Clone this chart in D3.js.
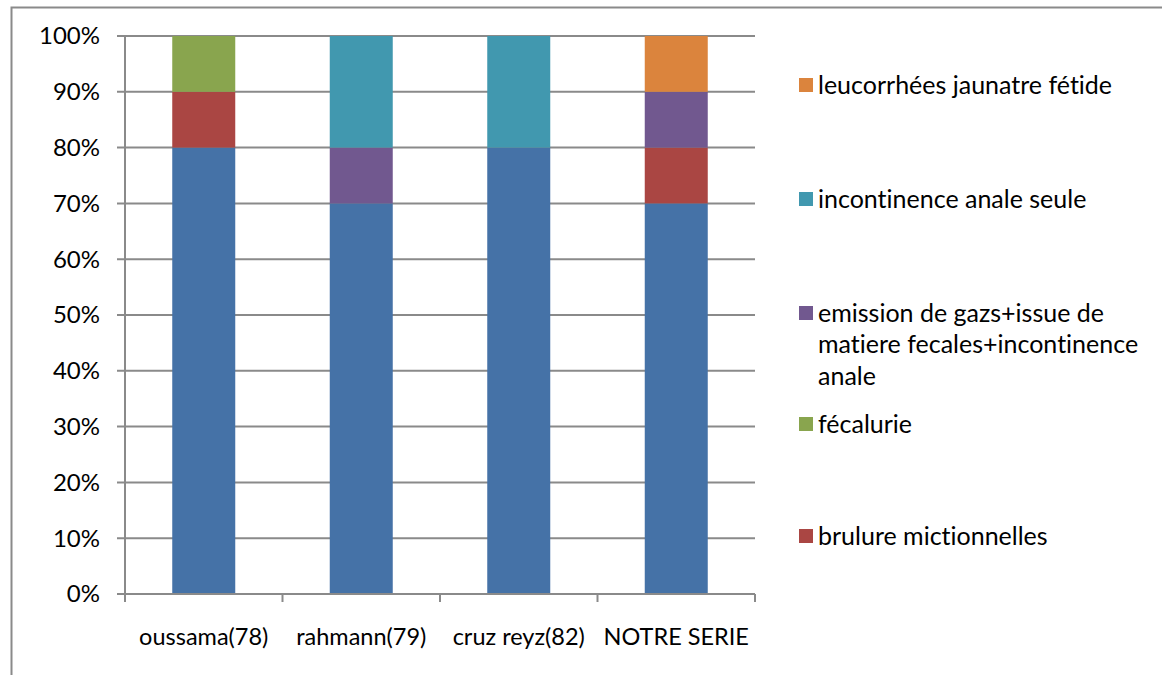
<!DOCTYPE html>
<html>
<head>
<meta charset="utf-8">
<script src="https://cdn.jsdelivr.net/npm/d3@7"></script>
<style>
  html, body { margin: 0; padding: 0; background: #fff; }
  svg { display: block; font-family: Lato, "Open Sans", sans-serif; font-variant-ligatures: none; }
</style>
</head>
<body>
<svg id="chart" width="1162" height="675"></svg>
<script>
// Studies compared
const categories = ["oussama(78)", "rahmann(79)", "cruz reyz(82)", "NOTRE SERIE"];

// Share (%) of each symptom, stacked bottom to top
const base        = [80, 70, 80, 70];
const brulure     = [10, 0, 0, 10];
const fecalurie   = [10, 0, 0, 0];
const emission    = [0, 10, 0, 10];
const incontinence= [0, 20, 20, 0];
const leucorrhees = [0, 0, 0, 10];

const yTicks = [0, 10, 20, 30, 40, 50, 60, 70, 80, 90, 100];

const seriesDefs = [
  { key: "base", values: base, color: "#4572A7", label: null },
  { key: "brulure", values: brulure, color: "#AA4643", label: ["brulure mictionnelles"] },
  { key: "fecalurie", values: fecalurie, color: "#89A54E", label: ["fécalurie"] },
  { key: "emission", values: emission, color: "#71588F",
    label: ["emission de gazs+issue de", "matiere fecales+incontinence", "anale"] },
  { key: "incontinence", values: incontinence, color: "#4198AF", label: ["incontinence anale seule"] },
  { key: "leucorrhees", values: leucorrhees, color: "#DB843D", label: ["leucorrhées jaunatre fétide"] }
];

const rows = categories.map((c, i) => {
  const r = { cat: c };
  seriesDefs.forEach(s => r[s.key] = s.values[i]);
  return r;
});

const svg = d3.select("#chart");

// outer frame (top and left edges)
svg.append("path")
  .attr("d", "M11.5,675 L11.5,7.5 L1162,7.5")
  .attr("fill", "none").attr("stroke", "#8a8a8a").attr("stroke-width", 2);

const plot = { left: 125, right: 755, top: 36, bottom: 594 };

const x = d3.scaleBand().domain(categories)
  .range([plot.left, plot.right]).paddingInner(0.6).paddingOuter(0.3);
const y = d3.scaleLinear().domain([0, 100]).range([plot.bottom, plot.top]);

// gridlines
svg.append("g").selectAll("line").data(yTicks).join("line")
  .attr("x1", plot.left - 8).attr("x2", plot.right)
  .attr("y1", d => y(d)).attr("y2", d => y(d))
  .attr("stroke", "#8a8a8a").attr("stroke-width", 2);

// stacked bars
const stack = d3.stack().keys(seriesDefs.map(s => s.key));
const layers = stack(rows);
svg.append("g").selectAll("g").data(layers).join("g")
  .attr("fill", (d, i) => seriesDefs[i].color)
  .selectAll("rect").data(d => d).join("rect")
  .attr("x", d => x(d.data.cat))
  .attr("width", x.bandwidth())
  .attr("y", d => y(d[1]))
  .attr("height", d => y(d[0]) - y(d[1]));

// y axis line
svg.append("line")
  .attr("x1", plot.left).attr("x2", plot.left)
  .attr("y1", plot.top).attr("y2", plot.bottom + 8)
  .attr("stroke", "#8a8a8a").attr("stroke-width", 2);

// x axis line and category boundary ticks
svg.append("line")
  .attr("x1", plot.left).attr("x2", plot.right)
  .attr("y1", plot.bottom).attr("y2", plot.bottom)
  .attr("stroke", "#8a8a8a").attr("stroke-width", 2);
const step = (plot.right - plot.left) / categories.length;
svg.append("g").selectAll("line").data(d3.range(categories.length + 1)).join("line")
  .attr("x1", i => plot.left + i * step).attr("x2", i => plot.left + i * step)
  .attr("y1", plot.bottom).attr("y2", plot.bottom + 8)
  .attr("stroke", "#8a8a8a").attr("stroke-width", 2);

// y tick labels
svg.append("g").selectAll("text").data(yTicks).join("text")
  .attr("x", plot.left - 25).attr("y", d => y(d))
  .attr("dy", "0.35em").attr("text-anchor", "end")
  .attr("font-size", 24).attr("fill", "#000")
  .text(d => d + "%");

// category labels
svg.append("g").selectAll("text").data(categories).join("text")
  .attr("x", d => x(d) + x.bandwidth() / 2).attr("y", 645)
  .attr("text-anchor", "middle")
  .attr("font-size", 23.5).attr("fill", "#000")
  .text(d => d);

// legend (top series first)
const legendItems = [
  { s: seriesDefs[5], y: 85 },
  { s: seriesDefs[4], y: 199 },
  { s: seriesDefs[3], y: 313 },
  { s: seriesDefs[2], y: 424 },
  { s: seriesDefs[1], y: 536 }
];
const lg = svg.append("g").selectAll("g").data(legendItems).join("g")
  .attr("transform", d => `translate(799,${d.y})`);
lg.append("rect").attr("x", 0).attr("y", -7).attr("width", 14).attr("height", 14)
  .attr("fill", d => d.s.color);
lg.append("text")
  .attr("x", 19).attr("y", 0).attr("font-size", 25).attr("fill", "#000")
  .selectAll("tspan").data(d => d.s.label).join("tspan")
  .attr("x", 19).attr("dy", (t, i) => i === 0 ? "0.35em" : 31.5)
  .text(t => t);
</script>
</body>
</html>
